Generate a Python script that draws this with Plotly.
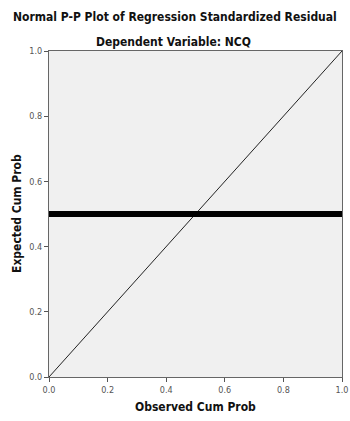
import plotly.graph_objects as go

# Reference diagonal
diag_x = [0.0, 1.0]
diag_y = [0.0, 1.0]
# Observed points (dense band at expected cum prob 0.5)
obs_cum = [0.0, 1.0]
exp_cum = [0.5, 0.5]
tick_vals = [0.0, 0.2, 0.4, 0.6, 0.8, 1.0]
tick_text = ["0.0", "0.2", "0.4", "0.6", "0.8", "1.0"]

TF = "DejaVu Sans Condensed, Roboto, sans-serif"

fig = go.Figure()
fig.add_trace(go.Scatter(x=diag_x, y=diag_y, mode="lines",
                         line=dict(color="#222222", width=1), hoverinfo="skip"))
fig.add_trace(go.Scatter(x=obs_cum, y=exp_cum, mode="lines",
                         line=dict(color="#000000", width=6)))

axis_common = dict(range=[0, 1], tickvals=tick_vals, ticktext=tick_text,
                   ticks="outside", ticklen=4, tickwidth=1, tickcolor="#555555",
                   showline=True, linecolor="#666666", linewidth=1, mirror=True,
                   showgrid=False, zeroline=False, automargin=False,
                   tickfont=dict(family="DejaVu Sans Condensed, DejaVu Sans, sans-serif",
                                 size=9, color="#555555"))

fig.update_layout(
    width=350, height=421,
    margin=dict(l=49, r=8, t=51, b=44, autoexpand=False),
    plot_bgcolor="#f0f0f0", paper_bgcolor="#ffffff",
    showlegend=False,
    xaxis=dict(**axis_common),
    yaxis=dict(**axis_common),
    annotations=[
        dict(text="<b>Normal P-P Plot of Regression Standardized Residual</b>",
             xref="paper", yref="paper", x=(175 - 49) / 293, xanchor="center",
             y=1, yshift=34, yanchor="middle", showarrow=False,
             font=dict(family=TF, size=12, color="#111111")),
        dict(text="<b>Dependent Variable: NCQ</b>",
             xref="paper", yref="paper", x=(173 - 49) / 293, xanchor="center",
             y=1, yshift=9, yanchor="middle", showarrow=False,
             font=dict(family=TF, size=12, color="#111111")),
        dict(text="<b>Observed Cum Prob</b>",
             xref="paper", yref="paper", x=0.5, xanchor="center",
             y=0, yshift=-30, yanchor="middle", showarrow=False,
             font=dict(family=TF, size=12, color="#111111")),
        dict(text="<b>Expected Cum Prob</b>", textangle=-90,
             xref="paper", yref="paper", x=0, xshift=-32, xanchor="center",
             y=0.5, yanchor="middle", showarrow=False,
             font=dict(family=TF, size=12, color="#111111")),
    ],
)

fig.write_html("out.html")
